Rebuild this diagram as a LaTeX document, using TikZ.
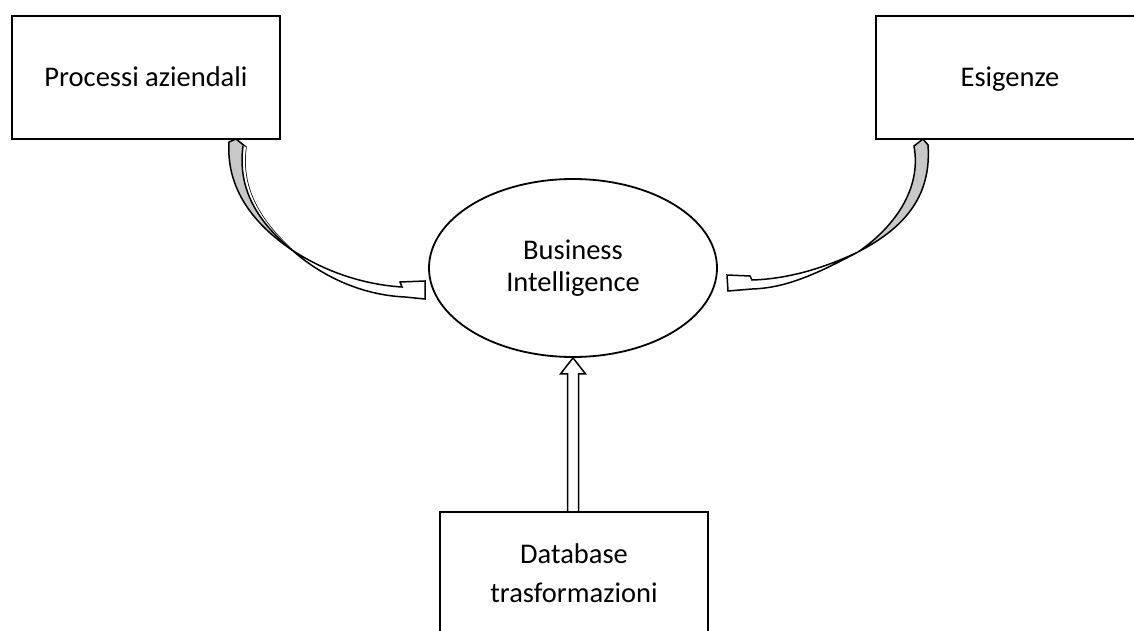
\documentclass[tikz,border=0pt]{standalone}
\usepackage{fontspec}
\setmainfont{Carlito}
\usetikzlibrary{shapes.geometric,calc}
\definecolor{ribbon}{RGB}{200,200,200}
\pgfdeclarelayer{bg}
\pgfsetlayers{bg,main}
\begin{document}
\begin{tikzpicture}[x=1pt,y=-1pt,
  lbl/.style={font=\fontsize{28.5}{37}\selectfont, align=center, inner sep=0pt},
  boxnode/.style={lbl, draw, line width=1.8pt, minimum width=268pt, minimum height=123pt},
  ring/.style={lbl, draw, ellipse, line width=1.8pt, minimum width=288pt, minimum height=178pt, font=\fontsize{28.5}{32}\selectfont},
  blockarrow/.style={draw, line width=1.5pt, fill=white, line join=miter},
  backpart/.style={draw, line width=1.5pt, fill=ribbon, line join=miter},
  edge/.style={line width=1.5pt, line join=miter},
]
\useasboundingbox (0,0) rectangle (1134,631);
\clip (0,0) rectangle (1134,631);

\node[boxnode, text height=19pt, text depth=0pt] (pa) at (146,77.5) {Processi aziendali};
\node[boxnode, text height=19pt, text depth=0pt] (es) at (1010,77.5) {Esigenze};
\node[ring] (bi) at (573,268) {Business\\Intelligence};
\node[boxnode, minimum height=122pt, font=\fontsize{28.5}{39}\selectfont] (db) at (574,573) {Database\\trasformazioni};

\begin{pgfonlayer}{bg}
  % left curved (twisted) arrow: Processi aziendali -> Business Intelligence
  \coordinate (lt) at (292,250);
  \draw[backpart] (229,142) -- (236,139) -- (246,147)
     .. controls (240,190) and (262,222) .. (lt)
     .. controls (255,225) and (226,190) .. (229,142) -- cycle;
  \begin{scope}
    \clip (246,147) .. controls (240,190) and (262,222) .. (lt)
       .. controls (259,223) and (237,190) .. (243,146) -- cycle;
    \fill[white] (200,120) rectangle (300,260);
  \end{scope}
  \draw[edge] (243,146) .. controls (237,190) and (259,223) .. (lt);
  \draw[blockarrow] (lt) .. controls (330,275) and (370,285) .. (402,287)
     -- (400,282) -- (425,281) -- (425,299) -- (405,297)
     .. controls (360,295) and (320,275) .. (lt) -- cycle;
  % right curved (twisted) arrow: Esigenze -> Business Intelligence
  \coordinate (rt) at (858,252);
  \draw[backpart] (914,146) -- (923,139) -- (928,145)
     .. controls (932,200) and (900,230) .. (rt)
     .. controls (893,228) and (922,190) .. (914,146) -- cycle;
  \draw[blockarrow] (rt) .. controls (820,270) and (785,279) .. (752,280)
     -- (750,276) -- (727,275) -- (728,291) -- (752,289)
     .. controls (785,288) and (815,275) .. (rt) -- cycle;
  % straight block arrow: Database trasformazioni -> Business Intelligence
  \path (bi.south) ++(0,16) coordinate (hb);
  \draw[blockarrow] ($(hb |- db.north)+(-5.5,0)$) -- ($(hb)+(-5.5,0)$) -- ($(hb)+(-12.5,0)$) -- (bi.south) -- ($(hb)+(12.5,0)$) -- ($(hb)+(5.5,0)$) -- ($(hb |- db.north)+(5.5,0)$);
\end{pgfonlayer}
\end{tikzpicture}
\end{document}
